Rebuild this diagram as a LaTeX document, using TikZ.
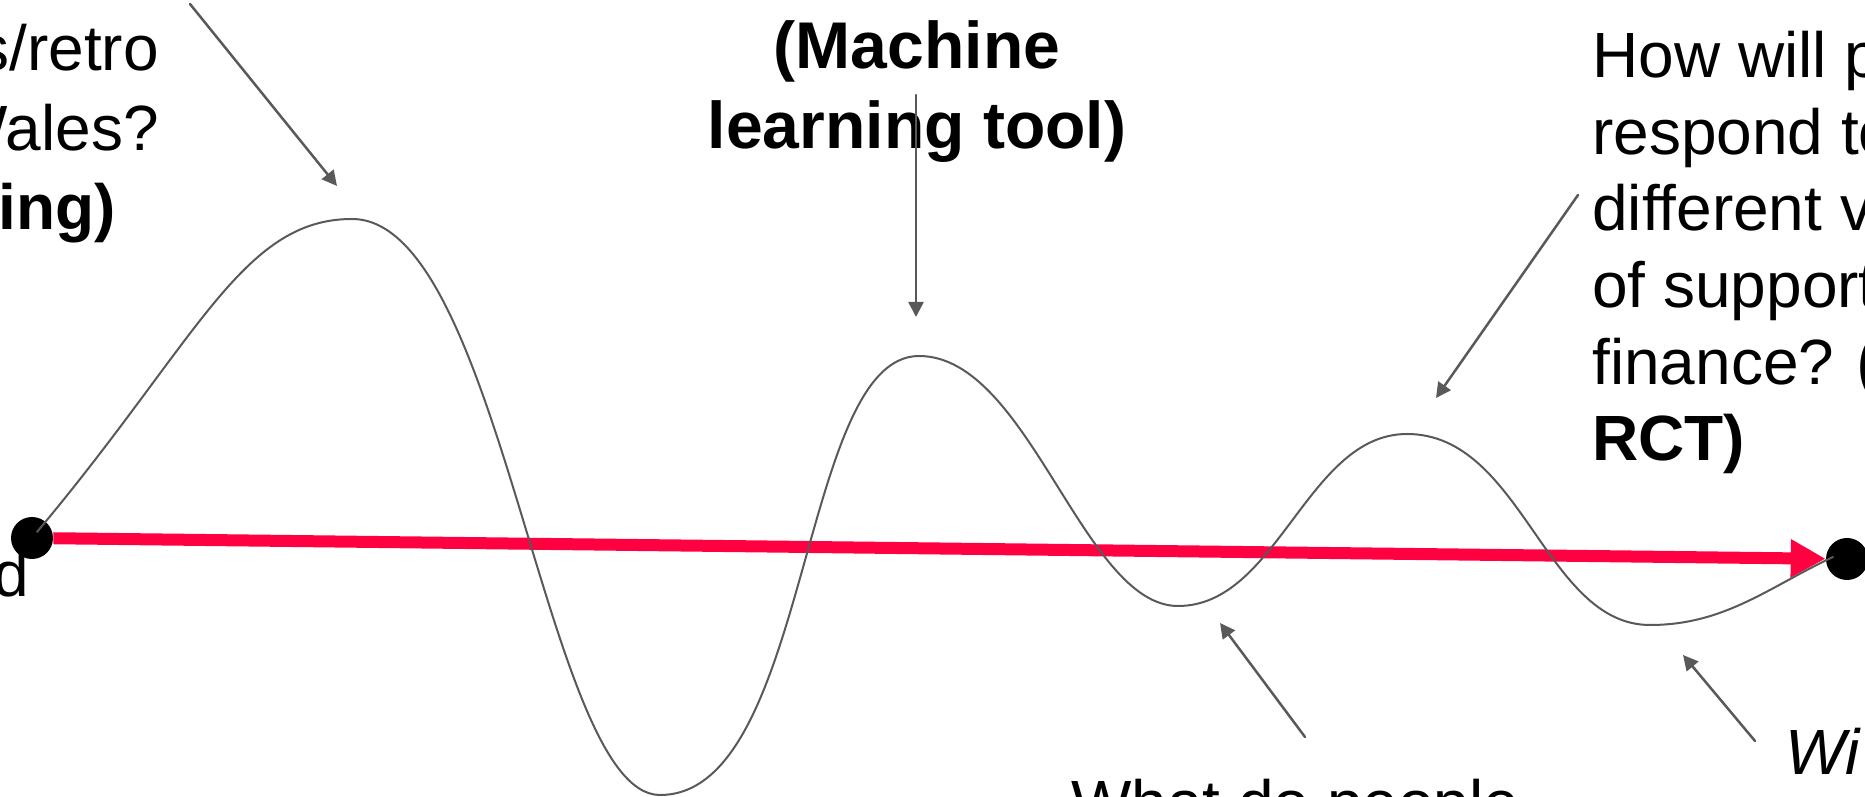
\documentclass[tikz,border=0pt]{standalone}
\usepackage{fontspec}
\setmainfont{Liberation Sans}
\usepackage{tikz}
\usetikzlibrary{arrows.meta}
\usepackage{xcolor}
\definecolor{pathred}{HTML}{FF0040}
\definecolor{wavegray}{HTML}{595959}

\begin{document}
\begin{tikzpicture}[>={Triangle[length=3mm,width=3mm]},font=\fontsize{36.4}{43.6}\selectfont,line cap=round,
  dot/.style={circle,fill=black,inner sep=0pt,minimum size=8.4mm},
  pointer/.style={->,wavegray,line width=0.05cm},
  txt/.style={inner sep=0pt}]
\useasboundingbox (0,0) rectangle (37.3,15.94);
\clip (0,0) rectangle (37.3,15.94);
% planned route
\node[dot] (start) at (0.64,5.18) {};
\node[dot] (finish) at (36.94,4.76) {};
\draw[pathred,line width=0.24cm,line cap=butt,-{Triangle[length=7mm,width=7.2mm]}] (start) -- (finish);
% real route
\draw[wavegray,line width=0.04cm] (0.74,5.30)
  .. controls +(50:5) and +(180:2.2) .. (7.04,11.56)
  .. controls +(0:3) and +(180:2.3) .. (13.20,0.04)
  .. controls +(0:3) and +(180:2.4) .. (18.38,8.82)
  .. controls +(0:2.2) and +(180:1.9) .. (23.56,3.82)
  .. controls +(0:2) and +(180:2) .. (28.14,7.26)
  .. controls +(0:2.3) and +(180:2.1) .. (33.0,3.44)
  .. controls +(0:1.5) and +(205:1.4) .. (36.66,4.80);
% labels
\node[txt,anchor=base east] (retro) at (3.18,14.52) {s/retro};
\node[txt,anchor=base east] (wales) at (3.18,12.92) {Wales?};
\node[txt,anchor=base east] (ing) at (2.32,11.34) {\textbf{ing)}};
\node[txt,anchor=base east] (d) at (0.58,4.00) {d};
\node[txt,anchor=north,align=center,font=\fontsize{37.6}{45.5}\selectfont\bfseries] (ml) at (18.34,15.54) {(Machine\\learning tool)};
\node[txt,anchor=north west,align=left] (rct) at (31.84,15.32) {How will p\\respond to\\different v\\of support\\finance? \textbf{(}\\\textbf{RCT)}};
\node[txt,anchor=base west] (people) at (21.42,-0.58) {What do people};
\node[txt,anchor=base west] (wi) at (35.70,0.44) {\itshape Wi};
% pointers
\coordinate (retrofrom) at (3.80,15.86);
\coordinate (retroto) at (6.74,12.22);
\coordinate (mlfrom) at (18.32,14.04);
\coordinate (mlto) at (18.32,9.60);
\coordinate (rctfrom) at (31.56,12.04);
\coordinate (rctto) at (28.72,7.98);
\coordinate (peoplefrom) at (26.10,1.20);
\coordinate (peopleto) at (24.40,3.48);
\coordinate (wifrom) at (35.10,1.12);
\coordinate (wito) at (33.66,2.84);
\draw[pointer] (retrofrom) -- (retroto);
\draw[pointer] (mlfrom) -- (mlto);
\draw[pointer] (rctfrom) -- (rctto);
\draw[pointer] (peoplefrom) -- (peopleto);
\draw[pointer] (wifrom) -- (wito);
\end{tikzpicture}
\end{document}
